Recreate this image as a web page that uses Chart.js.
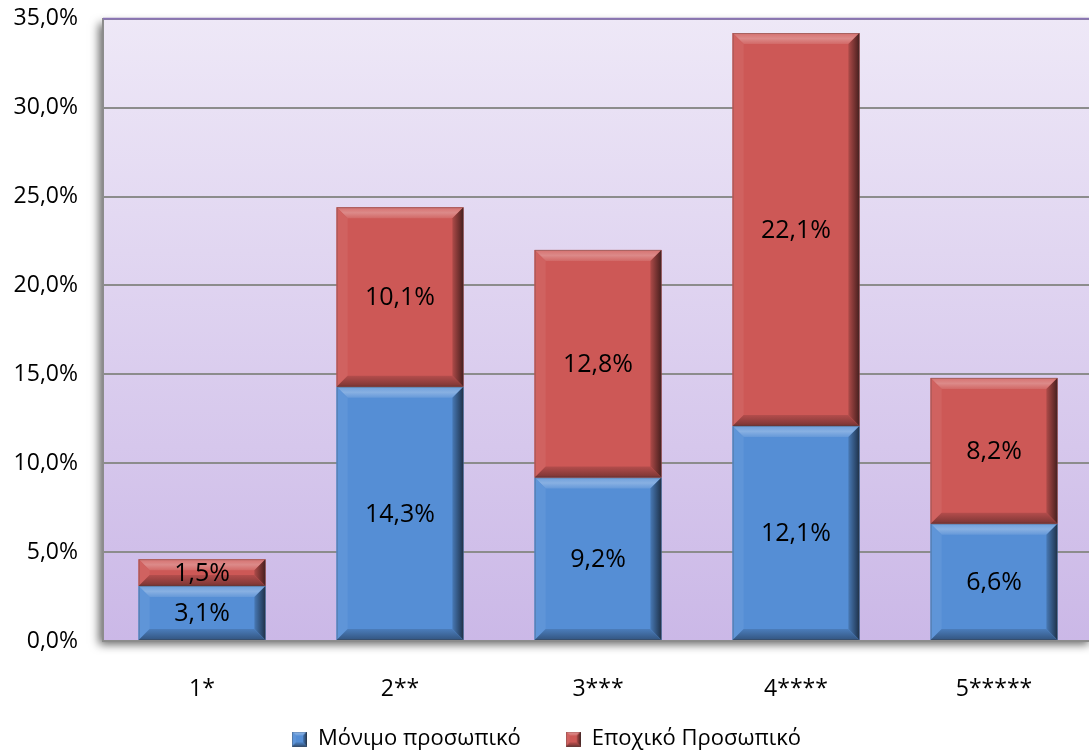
<!DOCTYPE html>
<html>
<head>
<meta charset="utf-8">
<script src="https://cdn.jsdelivr.net/npm/chart.js@4.4.1/dist/chart.umd.min.js"></script>
<style>
  html, body { margin: 0; padding: 0; background: #fff; overflow: hidden; }
  #wrap { width: 1096px; height: 780px; margin-top: -20px; }
</style>
</head>
<body>
<div id="wrap"><canvas id="chart" width="1096" height="780"></canvas></div>
<script>
// Staff share by hotel category
const categories = ['1*', '2**', '3***', '4****', '5*****'];
const permanentStaff = [3.1, 14.3, 9.2, 12.1, 6.6];
const seasonalStaff = [1.5, 10.1, 12.8, 22.1, 8.2];
const seriesNames = ['Μόνιμο προσωπικό', 'Εποχικό Προσωπικό'];
const yTicks = [0, 5, 10, 15, 20, 25, 30, 35];

const FONT = '"Open Sans", "Noto Sans", sans-serif';
const FSIZE = 23;
const BLUE = '#558ed5';
const RED = '#cd5856';

const fmt = v => v.toFixed(1).replace('.', ',') + '%';

function shade(hex, amt) {
    const n = parseInt(hex.slice(1), 16);
    const ch = [(n >> 16) & 255, (n >> 8) & 255, n & 255].map(c => {
        const t = amt >= 0 ? 255 : 0;
        return Math.round(c + (t - c) * Math.abs(amt));
    });
    return `rgb(${ch[0]},${ch[1]},${ch[2]})`;
}

// bevelled rectangle, used for bars and legend swatches
function bevelRect(ctx, l, t, r, b, color, bev) {
    const h = b - t, w = r - l;
    const e = Math.min(bev, h / 2, w / 2);
    ctx.fillStyle = color;
    ctx.fillRect(l, t, w, h);
    // top face
    ctx.beginPath();
    ctx.moveTo(l, t); ctx.lineTo(r, t); ctx.lineTo(r - e, t + e); ctx.lineTo(l + e, t + e); ctx.closePath();
    const gt = ctx.createLinearGradient(0, t, 0, t + e);
    gt.addColorStop(0, shade(color, 0.15));
    gt.addColorStop(0.5, shade(color, 0.3));
    gt.addColorStop(1, shade(color, 0.1));
    ctx.fillStyle = gt; ctx.fill();
    // left face
    ctx.beginPath();
    ctx.moveTo(l, t); ctx.lineTo(l + e, t + e); ctx.lineTo(l + e, b - e); ctx.lineTo(l, b); ctx.closePath();
    ctx.fillStyle = shade(color, 0.06); ctx.fill();
    // right face
    ctx.beginPath();
    ctx.moveTo(r, t); ctx.lineTo(r, b); ctx.lineTo(r - e, b - e); ctx.lineTo(r - e, t + e); ctx.closePath();
    const gr = ctx.createLinearGradient(r - e, 0, r, 0);
    gr.addColorStop(0, shade(color, -0.15));
    gr.addColorStop(1, shade(color, -0.65));
    ctx.fillStyle = gr; ctx.fill();
    // bottom face
    ctx.beginPath();
    ctx.moveTo(l, b); ctx.lineTo(r, b); ctx.lineTo(r - e, b - e); ctx.lineTo(l + e, b - e); ctx.closePath();
    const gb = ctx.createLinearGradient(0, b - e, 0, b);
    gb.addColorStop(0, shade(color, -0.12));
    gb.addColorStop(1, shade(color, -0.4));
    ctx.fillStyle = gb; ctx.fill();
    ctx.strokeStyle = 'rgba(60,60,60,0.3)';
    ctx.lineWidth = 1;
    ctx.strokeRect(l + 0.5, t + 0.5, w - 1, h - 1);
}

function swatch(color) {
    const c = document.createElement('canvas');
    c.width = 15; c.height = 15;
    bevelRect(c.getContext('2d'), 0, 0, 15, 15, color, 4);
    return c;
}

const plotBack = {
    id: 'plotBack',
    beforeDraw(chart) {
        const { ctx, chartArea: a } = chart;
        ctx.save();
        ctx.shadowColor = 'rgba(0,0,0,0.6)';
        ctx.shadowBlur = 9;
        ctx.shadowOffsetX = -4;
        ctx.shadowOffsetY = 4;
        const g = ctx.createLinearGradient(0, a.top, 0, a.bottom);
        g.addColorStop(0, '#eee8f7');
        g.addColorStop(1, '#cbb8e7');
        ctx.fillStyle = g;
        ctx.fillRect(a.left, a.top, a.right - a.left, a.bottom - a.top);
        ctx.restore();
    },
    afterDatasetsDraw(chart) {
        const { ctx, chartArea: a } = chart;
        ctx.save();
        // top border of the plot
        ctx.strokeStyle = '#8a74b4';
        ctx.lineWidth = 2;
        ctx.beginPath();
        ctx.moveTo(a.left, a.top); ctx.lineTo(a.right, a.top);
        ctx.stroke();
        ctx.restore();
    }
};

const bevelBars = {
    id: 'bevelBars',
    afterDatasetsDraw(chart) {
        const { ctx } = chart;
        ctx.save();
        chart.data.datasets.forEach((ds, i) => {
            chart.getDatasetMeta(i).data.forEach((bar, j) => {
                const p = bar.getProps(['x', 'y', 'base', 'width'], true);
                const l = p.x - p.width / 2, r = p.x + p.width / 2;
                const t = Math.min(p.y, p.base), b = Math.max(p.y, p.base);
                bevelRect(ctx, l, t, r, b, ds.backgroundColor, 11);
                ctx.fillStyle = '#000';
                ctx.font = `25px ${FONT}`;
                ctx.textAlign = 'center';
                ctx.textBaseline = 'middle';
                ctx.fillText(fmt(ds.data[j]), p.x, (t + b) / 2 + 1);
            });
        });
        ctx.restore();
    }
};

new Chart(document.getElementById('chart'), {
    type: 'bar',
    data: {
        labels: categories,
        datasets: [
            { label: seriesNames[0], data: permanentStaff, backgroundColor: BLUE, pointStyle: swatch(BLUE) },
            { label: seriesNames[1], data: seasonalStaff, backgroundColor: RED, pointStyle: swatch(RED) }
        ]
    },
    options: {
        responsive: false,
        animation: false,
        layout: { padding: { top: 0, right: 3, left: 0, bottom: 0 } },
        datasets: { bar: { categoryPercentage: 1, barPercentage: 0.64, borderWidth: 0 } },
        plugins: {
            legend: {
                position: 'bottom',
                labels: {
                    usePointStyle: true,
                    boxWidth: 15, boxHeight: 15,
                    padding: 12,
                    color: '#000',
                    font: { family: FONT, size: 22 },
                    // wider gap between the two entries
                    generateLabels: chart => {
                        const items = Chart.defaults.plugins.legend.labels.generateLabels(chart);
                        items[0].text += '\u2003\u2002';
                        return items;
                    }
                }
            },
            tooltip: { enabled: false }
        },
        scales: {
            x: {
                stacked: true,
                grid: { display: false },
                border: { color: '#8c8c8c', width: 2 },
                ticks: { color: '#000', font: { family: FONT, size: FSIZE }, padding: 27 },
                afterFit: s => { s.height = 75; }
            },
            y: {
                stacked: true,
                min: 0, max: 35,
                afterBuildTicks: s => { s.ticks = yTicks.map(v => ({ value: v })); },
                grid: { color: '#8c8c8c', lineWidth: 2, drawTicks: false },
                border: { color: '#8c8c8c', width: 2 },
                ticks: {
                    color: '#000', padding: 25,
                    font: { family: FONT, size: FSIZE },
                    callback: v => fmt(v)
                },
                afterFit: s => { s.width = 103; }
            }
        }
    },
    plugins: [plotBack, bevelBars]
});
</script>
</body>
</html>
